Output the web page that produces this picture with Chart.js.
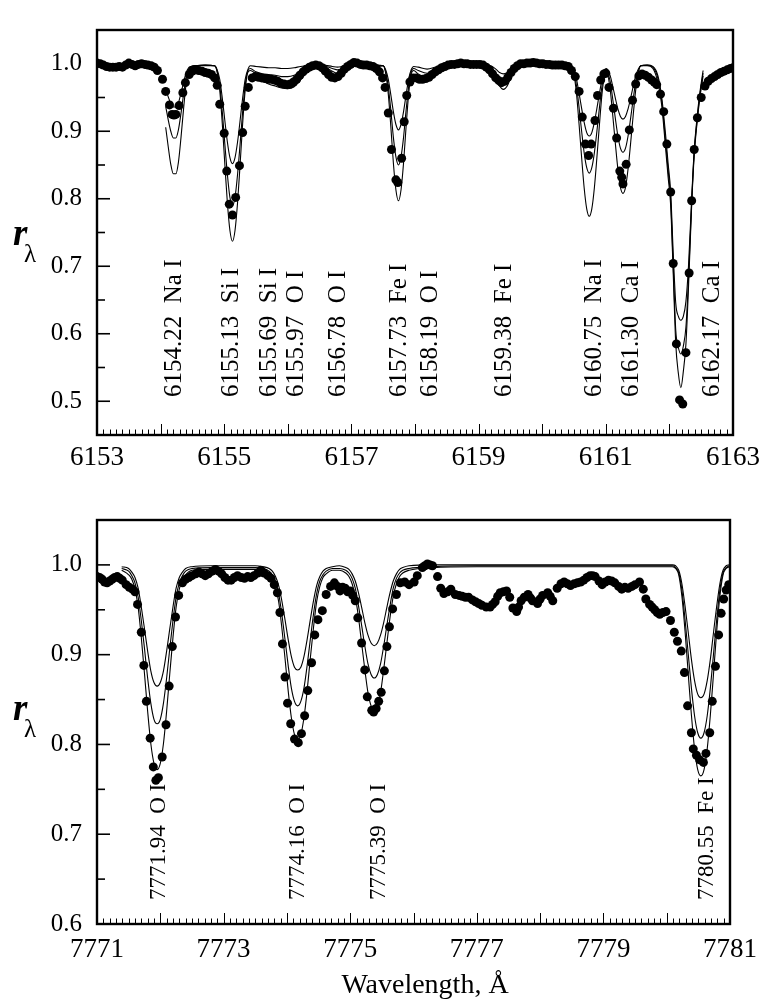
<!DOCTYPE html>
<html lang="en">
<head>
<meta charset="UTF-8">
<title>Observed and synthetic line profiles</title>
<style>
    html, body { margin: 0; padding: 0; background: #fff; }
    .wrap { position: relative; width: 767px; height: 1004px; }
    canvas { position: absolute; left: 0; }
    #topPanel { top: 0; }
    #bottomPanel { top: 490px; }
</style>
</head>
<body>
<div class="wrap">
    <canvas id="topPanel" width="767" height="490"></canvas>
    <canvas id="bottomPanel" width="767" height="514"></canvas>
</div>
<script src="https://cdn.jsdelivr.net/npm/chart.js"></script>
<script>
// ---- upper panel, 6153-6163 A ----
const obsWaveTop = [
    6153.00, 6153.05, 6153.10, 6153.15, 6153.20, 6153.25, 6153.30, 6153.35, 6153.40, 6153.45,
    6153.50, 6153.55, 6153.60, 6153.65, 6153.70, 6153.75, 6153.80, 6153.85, 6153.90, 6153.95,
    6154.03, 6154.08, 6154.14, 6154.18, 6154.21, 6154.24, 6154.29, 6154.35, 6154.39, 6154.45,
    6154.50, 6154.55, 6154.60, 6154.65, 6154.70, 6154.75, 6154.80, 6154.85, 6154.89, 6154.93,
    6155.00, 6155.04, 6155.08, 6155.13, 6155.18, 6155.24, 6155.29, 6155.33, 6155.38, 6155.44,
    6155.49, 6155.54, 6155.59, 6155.64, 6155.69, 6155.74, 6155.79, 6155.84, 6155.89, 6155.94,
    6155.99, 6156.04, 6156.09, 6156.14, 6156.19, 6156.24, 6156.29, 6156.34, 6156.39, 6156.44,
    6156.49, 6156.54, 6156.59, 6156.64, 6156.69, 6156.74, 6156.79, 6156.84, 6156.89, 6156.94,
    6156.99, 6157.04, 6157.09, 6157.14, 6157.19, 6157.24, 6157.29, 6157.34, 6157.39, 6157.44,
    6157.49, 6157.53, 6157.58, 6157.63, 6157.70, 6157.73, 6157.79, 6157.83, 6157.87, 6157.92,
    6157.97, 6158.02, 6158.07, 6158.12, 6158.17, 6158.22, 6158.27, 6158.32, 6158.37, 6158.42,
    6158.47, 6158.52, 6158.57, 6158.62, 6158.67, 6158.72, 6158.77, 6158.82, 6158.87, 6158.92,
    6158.97, 6159.02, 6159.07, 6159.12, 6159.17, 6159.22, 6159.27, 6159.32, 6159.36, 6159.41,
    6159.46, 6159.51, 6159.56, 6159.61, 6159.66, 6159.71, 6159.76, 6159.81, 6159.86, 6159.91,
    6159.96, 6160.01, 6160.06, 6160.11, 6160.16, 6160.21, 6160.26, 6160.31, 6160.36, 6160.41,
    6160.46, 6160.52, 6160.58, 6160.63, 6160.68, 6160.73, 6160.77, 6160.83, 6160.87, 6160.92,
    6160.97, 6161.00, 6161.05, 6161.12, 6161.17, 6161.22, 6161.25, 6161.27, 6161.32, 6161.37,
    6161.42, 6161.47, 6161.52, 6161.57, 6161.62, 6161.67, 6161.72, 6161.76, 6161.80, 6161.86,
    6161.91, 6161.96, 6162.02, 6162.06, 6162.11, 6162.16, 6162.21, 6162.26, 6162.31, 6162.35,
    6162.39, 6162.44, 6162.50, 6162.56, 6162.61, 6162.66, 6162.71, 6162.76, 6162.81, 6162.86,
    6162.91, 6162.96, 6163.00
];
const obsFluxTop = [
    1.001, 1.000, 0.998, 0.996, 0.995, 0.995, 0.995, 0.996, 0.995, 0.998,
    1.001, 0.999, 0.997, 0.999, 1.000, 0.999, 0.998, 0.997, 0.995, 0.990,
    0.977, 0.959, 0.939, 0.925, 0.924, 0.925, 0.938, 0.957, 0.972, 0.984,
    0.989, 0.991, 0.990, 0.989, 0.987, 0.986, 0.984, 0.979, 0.968, 0.940,
    0.897, 0.841, 0.792, 0.776, 0.802, 0.849, 0.898, 0.937, 0.965, 0.979,
    0.981, 0.980, 0.979, 0.978, 0.977, 0.977, 0.976, 0.974, 0.971, 0.970,
    0.969, 0.970, 0.973, 0.977, 0.983, 0.988, 0.992, 0.995, 0.997, 0.998,
    0.997, 0.994, 0.989, 0.984, 0.980, 0.979, 0.981, 0.986, 0.992, 0.996,
    0.999, 1.002, 1.001, 0.999, 0.998, 0.998, 0.997, 0.996, 0.993, 0.988,
    0.979, 0.965, 0.927, 0.873, 0.828, 0.824, 0.860, 0.914, 0.953, 0.973,
    0.979, 0.979, 0.977, 0.977, 0.978, 0.980, 0.984, 0.988, 0.991, 0.994,
    0.996, 0.998, 0.999, 0.999, 1.000, 1.001, 1.000, 1.000, 0.999, 0.999,
    0.999, 0.999, 0.998, 0.995, 0.991, 0.985, 0.979, 0.975, 0.972, 0.974,
    0.980, 0.987, 0.993, 0.997, 1.000, 1.000, 1.001, 1.001, 1.002, 1.001,
    1.000, 1.000, 0.999, 0.999, 0.998, 0.998, 0.998, 0.998, 0.997, 0.996,
    0.990, 0.981, 0.959, 0.921, 0.881, 0.864, 0.881, 0.916, 0.953, 0.976,
    0.985, 0.986, 0.965, 0.934, 0.890, 0.841, 0.832, 0.822, 0.851, 0.902,
    0.946, 0.970, 0.982, 0.985, 0.983, 0.980, 0.976, 0.973, 0.969, 0.955,
    0.929, 0.881, 0.810, 0.704, 0.585, 0.502, 0.496, 0.572, 0.690, 0.797,
    0.873, 0.920, 0.950, 0.967, 0.974, 0.978, 0.981, 0.984, 0.987, 0.989,
    0.991, 0.993, 0.994
];

// synthetic spectra, three model runs sharing one wavelength grid
const modelWaveTop = [
    6154.08, 6154.12, 6154.16, 6154.20, 6154.24, 6154.28, 6154.32, 6154.36, 6154.40, 6154.44, 6154.48, 6154.54, 6154.70,
    6154.85, 6154.89, 6154.93, 6154.97, 6155.01, 6155.05, 6155.09, 6155.13, 6155.17, 6155.21, 6155.25, 6155.29, 6155.33, 6155.37, 6155.41,
    6155.50, 6155.60, 6155.70, 6155.80, 6155.90, 6156.00, 6156.10, 6156.20, 6156.30, 6156.40,
    6156.55, 6156.70, 6156.78, 6156.86, 6157.00, 6157.20, 6157.40,
    6157.50, 6157.54, 6157.58, 6157.62, 6157.66, 6157.70, 6157.74, 6157.78, 6157.82, 6157.86, 6157.90, 6157.94, 6157.98,
    6158.05, 6158.19, 6158.35, 6158.55,
    6159.00, 6159.19, 6159.27, 6159.33, 6159.39, 6159.45, 6159.51, 6159.59, 6159.80,
    6160.10, 6160.40,
    6160.46, 6160.50, 6160.54, 6160.58, 6160.62, 6160.66, 6160.70, 6160.74, 6160.78, 6160.82, 6160.86, 6160.90, 6160.94, 6160.98, 6161.01,
    6161.07, 6161.11, 6161.15, 6161.19, 6161.23, 6161.27, 6161.31, 6161.35, 6161.39, 6161.43, 6161.47, 6161.51, 6161.55,
    6161.65, 6161.74, 6161.82, 6161.88, 6161.94, 6161.98, 6162.02, 6162.06, 6162.10, 6162.14, 6162.18, 6162.22, 6162.26, 6162.30, 6162.35, 6162.39, 6162.44, 6162.48, 6162.53
];
const modelTopA = [
    0.962, 0.951, 0.941, 0.936, 0.936, 0.942, 0.956, 0.972, 0.986, 0.994, 0.996, 0.997, 0.998,
    0.997, 0.991, 0.977, 0.949, 0.916, 0.884, 0.861, 0.852, 0.861, 0.884, 0.916, 0.949, 0.977, 0.991, 0.997,
    0.996, 0.995, 0.994, 0.994, 0.993, 0.993, 0.994, 0.996, 0.997, 0.998,
    0.998, 0.996, 0.995, 0.996, 0.998, 0.998, 0.998,
    0.997, 0.991, 0.977, 0.954, 0.929, 0.910, 0.902, 0.910, 0.929, 0.954, 0.977, 0.991, 0.996,
    0.995, 0.992, 0.996, 0.998,
    0.998, 0.997, 0.992, 0.987, 0.985, 0.987, 0.992, 0.997, 0.998,
    0.998, 0.998,
    0.997, 0.991, 0.977, 0.956, 0.934, 0.913, 0.898, 0.893, 0.898, 0.913, 0.934, 0.956, 0.977, 0.991, 0.993,
    0.982, 0.966, 0.949, 0.933, 0.922, 0.918, 0.922, 0.933, 0.949, 0.966, 0.982, 0.992, 0.997,
    0.998, 0.996, 0.982, 0.950, 0.895, 0.852, 0.810, 0.720, 0.645, 0.626, 0.620, 0.626, 0.648, 0.700, 0.800, 0.872, 0.925, 0.958, 0.990
];
const modelTopB = [
    0.937, 0.917, 0.900, 0.890, 0.890, 0.902, 0.926, 0.954, 0.979, 0.992, 0.996, 0.997, 0.998,
    0.997, 0.989, 0.968, 0.929, 0.881, 0.836, 0.802, 0.790, 0.802, 0.836, 0.881, 0.929, 0.968, 0.989, 0.993,
    0.988, 0.985, 0.984, 0.983, 0.981, 0.981, 0.983, 0.988, 0.994, 0.997,
    0.997, 0.993, 0.991, 0.993, 0.997, 0.998, 0.997,
    0.997, 0.988, 0.966, 0.931, 0.891, 0.862, 0.850, 0.862, 0.891, 0.931, 0.966, 0.988, 0.993,
    0.990, 0.986, 0.993, 0.998,
    0.998, 0.996, 0.986, 0.978, 0.975, 0.978, 0.986, 0.996, 0.998,
    0.998, 0.998,
    0.997, 0.987, 0.967, 0.935, 0.900, 0.868, 0.846, 0.838, 0.846, 0.868, 0.900, 0.935, 0.967, 0.987, 0.991,
    0.973, 0.947, 0.919, 0.893, 0.875, 0.869, 0.875, 0.893, 0.919, 0.947, 0.973, 0.989, 0.997,
    0.998, 0.995, 0.978, 0.944, 0.885, 0.842, 0.800, 0.700, 0.605, 0.580, 0.570, 0.582, 0.610, 0.680, 0.795, 0.868, 0.921, 0.954, 0.986
];
const modelTopC = [
    0.906, 0.877, 0.851, 0.837, 0.837, 0.854, 0.890, 0.932, 0.969, 0.989, 0.995, 0.997, 0.997,
    0.997, 0.987, 0.961, 0.911, 0.851, 0.794, 0.753, 0.737, 0.753, 0.794, 0.851, 0.911, 0.961, 0.987, 0.990,
    0.985, 0.975, 0.970, 0.967, 0.964, 0.963, 0.966, 0.976, 0.990, 0.996,
    0.996, 0.989, 0.986, 0.989, 0.996, 0.997, 0.996,
    0.997, 0.985, 0.955, 0.907, 0.853, 0.813, 0.797, 0.813, 0.853, 0.907, 0.955, 0.985, 0.990,
    0.985, 0.980, 0.990, 0.997,
    0.998, 0.995, 0.980, 0.967, 0.962, 0.967, 0.980, 0.995, 0.998,
    0.998, 0.998,
    0.997, 0.984, 0.955, 0.910, 0.861, 0.816, 0.785, 0.774, 0.785, 0.816, 0.861, 0.910, 0.955, 0.984, 0.989,
    0.961, 0.923, 0.882, 0.844, 0.817, 0.808, 0.817, 0.844, 0.882, 0.923, 0.961, 0.986, 0.997,
    0.997, 0.993, 0.972, 0.938, 0.875, 0.832, 0.790, 0.690, 0.585, 0.542, 0.520, 0.545, 0.585, 0.668, 0.790, 0.864, 0.917, 0.950, 0.982
];
const lineTextTop = [
    '6154.22  Na I', '6155.13  Si I', '6155.69  Si I', '6155.97  O I', '6156.78  O I',
    '6157.73  Fe I', '6158.19  O I', '6159.38  Fe I', '6160.75  Na I', '6161.30  Ca I', '6162.17  Ca I'
];
const lineLabelAtTop = [6154.22, 6155.11, 6155.71, 6156.13, 6156.79, 6157.75, 6158.25, 6159.40, 6160.82, 6161.40, 6162.67];
const xTicksTop = [6153, 6155, 6157, 6159, 6161, 6163];
const yTicksTop = [0.5, 0.6, 0.7, 0.8, 0.9, 1.0];

// ---- lower panel, 7771-7781 A (O I triplet) ----
const obsWaveBottom = [
    7771.00, 7771.04, 7771.08, 7771.12, 7771.16, 7771.20, 7771.24, 7771.28, 7771.32, 7771.36,
    7771.40, 7771.46, 7771.51, 7771.56, 7771.60, 7771.64, 7771.70, 7771.74, 7771.78, 7771.84,
    7771.89, 7771.93, 7771.97, 7772.03, 7772.09, 7772.14, 7772.19, 7772.24, 7772.29, 7772.35,
    7772.40, 7772.45, 7772.50, 7772.56, 7772.61, 7772.66, 7772.71, 7772.76, 7772.82, 7772.87,
    7772.92, 7772.97, 7773.02, 7773.07, 7773.12, 7773.17, 7773.22, 7773.28, 7773.33, 7773.38,
    7773.43, 7773.48, 7773.54, 7773.59, 7773.64, 7773.70, 7773.75, 7773.80, 7773.85, 7773.89,
    7773.93, 7773.97, 7774.01, 7774.06, 7774.12, 7774.18, 7774.23, 7774.28, 7774.33, 7774.39,
    7774.44, 7774.49, 7774.56, 7774.62, 7774.69, 7774.75, 7774.80, 7774.84, 7774.88, 7774.92,
    7774.96, 7775.00, 7775.04, 7775.08, 7775.12, 7775.18, 7775.23, 7775.27, 7775.34, 7775.37,
    7775.41, 7775.45, 7775.49, 7775.54, 7775.58, 7775.62, 7775.67, 7775.73, 7775.79, 7775.86,
    7775.93, 7776.01, 7776.06, 7776.14, 7776.18, 7776.22, 7776.26, 7776.30, 7776.38, 7776.43,
    7776.48, 7776.54, 7776.59, 7776.66, 7776.72, 7776.77, 7776.82, 7776.87, 7776.93, 7776.98,
    7777.03, 7777.08, 7777.15, 7777.21, 7777.25, 7777.29, 7777.33, 7777.37, 7777.42, 7777.47,
    7777.52, 7777.57, 7777.63, 7777.66, 7777.70, 7777.75, 7777.81, 7777.85, 7777.88, 7777.96,
    7778.00, 7778.04, 7778.12, 7778.16, 7778.20, 7778.27, 7778.33, 7778.38, 7778.43, 7778.48,
    7778.54, 7778.59, 7778.64, 7778.69, 7778.74, 7778.79, 7778.83, 7778.87, 7778.93, 7778.98,
    7779.03, 7779.08, 7779.13, 7779.18, 7779.24, 7779.29, 7779.34, 7779.39, 7779.45, 7779.50,
    7779.57, 7779.63, 7779.67, 7779.73, 7779.77, 7779.81, 7779.85, 7779.89, 7779.94, 7779.99,
    7780.06, 7780.12, 7780.17, 7780.23, 7780.28, 7780.33, 7780.39, 7780.42, 7780.47, 7780.52,
    7780.58, 7780.62, 7780.68, 7780.72, 7780.77, 7780.82, 7780.86, 7780.90, 7780.94, 7780.98
];
const obsFluxBottom = [
    0.987, 0.986, 0.984, 0.981, 0.980, 0.982, 0.984, 0.986, 0.987, 0.985,
    0.983, 0.978, 0.975, 0.973, 0.970, 0.956, 0.925, 0.888, 0.848, 0.807,
    0.775, 0.760, 0.763, 0.786, 0.822, 0.865, 0.909, 0.942, 0.966, 0.980,
    0.984, 0.986, 0.988, 0.990, 0.992, 0.990, 0.988, 0.990, 0.993, 0.995,
    0.993, 0.990, 0.986, 0.983, 0.983, 0.986, 0.988, 0.986, 0.985, 0.987,
    0.986, 0.988, 0.991, 0.994, 0.991, 0.988, 0.985, 0.978, 0.969, 0.947,
    0.912, 0.875, 0.846, 0.823, 0.806, 0.802, 0.812, 0.832, 0.860, 0.891,
    0.922, 0.939, 0.949, 0.967, 0.976, 0.980, 0.976, 0.971, 0.975, 0.974,
    0.970, 0.971, 0.966, 0.960, 0.941, 0.913, 0.883, 0.853, 0.838, 0.836,
    0.840, 0.848, 0.858, 0.882, 0.909, 0.931, 0.951, 0.967, 0.980, 0.981,
    0.978, 0.981, 0.988, 0.997, 0.999, 1.001, 1.000, 0.999, 0.987, 0.974,
    0.968, 0.970, 0.973, 0.967, 0.966, 0.965, 0.964, 0.964, 0.961, 0.959,
    0.957, 0.955, 0.953, 0.953, 0.956, 0.959, 0.965, 0.969, 0.970, 0.971,
    0.964, 0.952, 0.948, 0.953, 0.960, 0.964, 0.967, 0.963, 0.960, 0.957,
    0.962, 0.966, 0.969, 0.965, 0.960, 0.974, 0.979, 0.981, 0.979, 0.977,
    0.979, 0.980, 0.981, 0.983, 0.986, 0.988, 0.988, 0.987, 0.982, 0.978,
    0.981, 0.983, 0.982, 0.980, 0.976, 0.973, 0.975, 0.974, 0.976, 0.978,
    0.981, 0.973, 0.962, 0.956, 0.953, 0.950, 0.947, 0.945, 0.947, 0.948,
    0.938, 0.925, 0.915, 0.904, 0.880, 0.843, 0.813, 0.795, 0.788, 0.783,
    0.780, 0.790, 0.813, 0.848, 0.887, 0.922, 0.946, 0.962, 0.972, 0.978
];
const modelWaveBottom = [
    7771.39, 7771.50, 7771.55, 7771.60, 7771.65, 7771.70, 7771.75, 7771.80, 7771.85, 7771.90, 7771.95,
    7772.00, 7772.05, 7772.10, 7772.15, 7772.20, 7772.25, 7772.30, 7772.35, 7772.40, 7772.50,
    7772.80, 7773.20, 7773.50,
    7773.62, 7773.72, 7773.77, 7773.82, 7773.87, 7773.92, 7773.97, 7774.02, 7774.07, 7774.12, 7774.17,
    7774.22, 7774.27, 7774.32, 7774.37, 7774.42, 7774.47, 7774.52, 7774.57, 7774.62, 7774.72,
    7774.83, 7774.93, 7774.98, 7775.03, 7775.08, 7775.13, 7775.18, 7775.23, 7775.28, 7775.33, 7775.38,
    7775.43, 7775.48, 7775.53, 7775.58, 7775.63, 7775.68, 7775.73, 7775.78, 7775.83, 7775.93,
    7776.30, 7777.00, 7777.80, 7778.60, 7779.40, 7779.90,
    7780.09, 7780.14, 7780.19, 7780.24, 7780.29, 7780.34, 7780.39, 7780.44, 7780.49, 7780.54,
    7780.59, 7780.64, 7780.69, 7780.74, 7780.79, 7780.84, 7780.89, 7780.94, 7780.99
];
const modelBottomA = [
    0.998, 0.996, 0.992, 0.986, 0.974, 0.953, 0.929, 0.904, 0.882, 0.869, 0.865,
    0.869, 0.882, 0.904, 0.929, 0.953, 0.974, 0.986, 0.992, 0.996, 0.998,
    0.999, 0.999, 0.999,
    0.998, 0.996, 0.993, 0.987, 0.977, 0.960, 0.939, 0.917, 0.898, 0.886, 0.883,
    0.886, 0.898, 0.917, 0.939, 0.960, 0.977, 0.987, 0.993, 0.996, 0.998,
    0.999, 0.997, 0.995, 0.990, 0.982, 0.969, 0.953, 0.936, 0.922, 0.913, 0.910,
    0.913, 0.922, 0.936, 0.953, 0.969, 0.982, 0.990, 0.995, 0.997, 0.999,
    1.000, 1.000, 1.000, 1.000, 1.000, 1.000,
    1.000, 0.999, 0.994, 0.979, 0.954, 0.925, 0.895, 0.871, 0.856, 0.852,
    0.856, 0.871, 0.895, 0.925, 0.954, 0.979, 0.994, 0.999, 1.000
];
const modelBottomB = [
    0.996, 0.993, 0.988, 0.980, 0.964, 0.938, 0.907, 0.874, 0.846, 0.828, 0.823,
    0.828, 0.846, 0.874, 0.907, 0.938, 0.964, 0.980, 0.988, 0.993, 0.996,
    0.997, 0.997, 0.997,
    0.996, 0.993, 0.989, 0.982, 0.968, 0.945, 0.917, 0.888, 0.863, 0.848, 0.843,
    0.848, 0.863, 0.888, 0.917, 0.945, 0.968, 0.982, 0.989, 0.993, 0.996,
    0.996, 0.994, 0.991, 0.985, 0.974, 0.955, 0.933, 0.910, 0.890, 0.878, 0.874,
    0.878, 0.890, 0.910, 0.933, 0.955, 0.974, 0.985, 0.991, 0.994, 0.996,
    0.998, 0.999, 0.999, 0.999, 0.999, 0.999,
    0.999, 0.997, 0.991, 0.972, 0.939, 0.901, 0.863, 0.832, 0.813, 0.807,
    0.813, 0.832, 0.863, 0.901, 0.939, 0.972, 0.991, 0.997, 0.999
];
const modelBottomC = [
    0.994, 0.989, 0.984, 0.973, 0.953, 0.919, 0.879, 0.837, 0.801, 0.779, 0.772,
    0.779, 0.801, 0.837, 0.879, 0.919, 0.953, 0.973, 0.984, 0.989, 0.994,
    0.995, 0.995, 0.995,
    0.994, 0.990, 0.986, 0.976, 0.959, 0.930, 0.896, 0.860, 0.830, 0.811, 0.805,
    0.811, 0.830, 0.860, 0.896, 0.930, 0.959, 0.976, 0.986, 0.990, 0.994,
    0.994, 0.991, 0.987, 0.979, 0.965, 0.942, 0.913, 0.884, 0.858, 0.843, 0.838,
    0.843, 0.858, 0.884, 0.913, 0.942, 0.965, 0.979, 0.987, 0.991, 0.994,
    0.997, 0.998, 0.998, 0.998, 0.998, 0.998,
    0.998, 0.996, 0.989, 0.965, 0.926, 0.879, 0.833, 0.795, 0.772, 0.765,
    0.772, 0.795, 0.833, 0.879, 0.926, 0.965, 0.989, 0.996, 0.998
];
const lineTextBottom = ['7771.94  O I', '7774.16  O I', '7775.39  O I', '7780.55  Fe I'];
const lineLabelAtBottom = [7771.98, 7774.18, 7775.45, 7780.63];
const xTicksBottom = [7771, 7773, 7775, 7777, 7779, 7781];
const yTicksBottom = [0.6, 0.7, 0.8, 0.9, 1.0];

const serif = '"Liberation Serif", "DejaVu Serif", serif';

function pairs(xs, ys) {
    return xs.map((x, i) => ({ x: x, y: ys[i] }));
}

// frame, inward tick marks, line identifications and the r_lambda label
function decorations(p) {
    return {
        id: 'decorations',
        afterDraw(chart) {
            const ctx = chart.ctx;
            const a = chart.chartArea;
            const xs = chart.scales.x;
            const ys = chart.scales.y;
            ctx.save();
            ctx.strokeStyle = '#000';
            ctx.fillStyle = '#000';

            ctx.lineWidth = 1;
            for (let i = 0; i <= 100; i++) {
                const px = Math.round(xs.getPixelForValue(p.xMin + i / 10)) + 0.5;
                const len = i % 10 === 0 ? 11 : 5.5;
                ctx.beginPath();
                ctx.moveTo(px, a.bottom);
                ctx.lineTo(px, a.bottom - len);
                ctx.stroke();
            }

            ctx.lineWidth = 1.6;
            const k0 = Math.round(p.yMin * 20) + 1;
            const k1 = Math.round(p.yMax * 20);
            for (let k = k0; k < k1; k++) {
                const py = ys.getPixelForValue(k / 20);
                ctx.beginPath();
                ctx.moveTo(a.left, py);
                ctx.lineTo(a.left + (k % 2 === 0 ? 13 : 8), py);
                ctx.stroke();
            }

            ctx.lineWidth = 2.4;
            ctx.strokeRect(a.left, a.top, a.right - a.left, a.bottom - a.top);

            ctx.font = p.labelSize + 'px ' + serif;
            ctx.textAlign = 'left';
            ctx.textBaseline = 'middle';
            p.labelText.forEach((t, i) => {
                ctx.save();
                ctx.translate(xs.getPixelForValue(p.labelAt[i]), p.labelBase);
                ctx.rotate(-Math.PI / 2);
                ctx.fillText(t, 0, 0);
                ctx.restore();
            });

            ctx.textBaseline = 'alphabetic';
            ctx.font = 'bold italic 37px ' + serif;
            ctx.fillText('r', 13, p.rBase);
            ctx.font = '25px ' + serif;
            ctx.fillText('λ', 24, p.rBase + 17);

            if (p.xTitle) {
                ctx.textAlign = 'center';
                ctx.font = '28px ' + serif;
                ctx.fillText(p.xTitle, 425, p.xTitleBase);
            }
            ctx.restore();
        }
    };
}

function buildPanel(canvasId, p) {
    const datasets = [{
        label: 'observed',
        data: pairs(p.obsWave, p.obsFlux),
        showLine: false,
        pointRadius: 4.5,
        pointBackgroundColor: '#000',
        pointBorderWidth: 0,
        order: 0
    }];
    p.models.forEach((m, i) => {
        datasets.push({
            label: 'model ' + (i + 1),
            data: pairs(p.modelWave, m),
            showLine: true,
            borderColor: '#000',
            borderWidth: 1.1,
            pointRadius: 0,
            cubicInterpolationMode: 'monotone',
            order: 1
        });
    });

    return new Chart(document.getElementById(canvasId), {
        type: 'scatter',
        data: { datasets: datasets },
        options: {
            responsive: false,
            animation: false,
            events: [],
            layout: { padding: { left: 0, right: 29, top: p.padTop, bottom: 0 } },
            plugins: { legend: { display: false }, tooltip: { enabled: false } },
            scales: {
                x: {
                    type: 'linear',
                    min: p.xMin,
                    max: p.xMax,
                    grid: { display: false, drawTicks: false },
                    border: { display: false },
                    afterBuildTicks: s => { s.ticks = p.xTicks.map(v => ({ value: v })); },
                    afterFit: s => { s.height = p.xAxisHeight; },
                    ticks: {
                        color: '#000',
                        font: { family: serif, size: 27 },
                        padding: p.xPad,
                        maxRotation: 0,
                        autoSkip: false,
                        callback: v => String(v)
                    }
                },
                y: {
                    type: 'linear',
                    min: p.yMin,
                    max: p.yMax,
                    grid: { display: false, drawTicks: false },
                    border: { display: false },
                    afterBuildTicks: s => { s.ticks = p.yTicks.map(v => ({ value: v })); },
                    afterFit: s => { s.width = 97; },
                    ticks: {
                        color: '#000',
                        font: { family: serif, size: 25 },
                        padding: 15,
                        callback: v => Number(v).toFixed(1)
                    }
                }
            }
        },
        plugins: [decorations(p)]
    });
}

buildPanel('topPanel', {
    obsWave: obsWaveTop, obsFlux: obsFluxTop,
    modelWave: modelWaveTop, models: [modelTopA, modelTopB, modelTopC],
    xMin: 6153, xMax: 6163, yMin: 0.45, yMax: 1.05,
    xTicks: xTicksTop, yTicks: yTicksTop,
    padTop: 7, xAxisHeight: 55, xPad: 7,
    labelText: lineTextTop, labelAt: lineLabelAtTop, labelSize: 25, labelBase: 397,
    rBase: 245
});

buildPanel('bottomPanel', {
    obsWave: obsWaveBottom, obsFlux: obsFluxBottom,
    modelWave: modelWaveBottom, models: [modelBottomA, modelBottomB, modelBottomC],
    xMin: 7771, xMax: 7781, yMin: 0.6, yMax: 1.05,
    xTicks: xTicksBottom, yTicks: yTicksBottom,
    padTop: 6.5, xAxisHeight: 80, xPad: 10,
    labelText: lineTextBottom, labelAt: lineLabelAtBottom, labelSize: 23, labelBase: 410,
    rBase: 230,
    xTitle: 'Wavelength, Å', xTitleBase: 503
});
</script>
</body>
</html>
